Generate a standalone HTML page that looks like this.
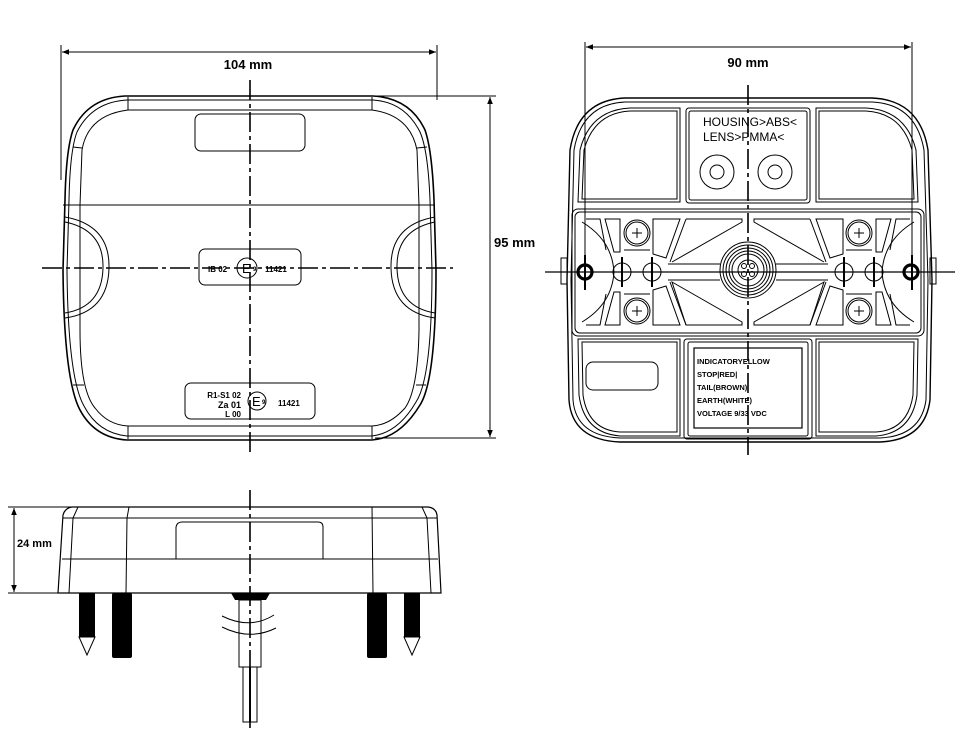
<!DOCTYPE html>
<html><head><style>
html,body{margin:0;padding:0;background:#fff;}
svg{display:block;}
text{font-family:"Liberation Sans",Arial,sans-serif;}
</style></head><body>
<svg width="960" height="737" viewBox="0 0 960 737" xmlns="http://www.w3.org/2000/svg">
<defs>
<marker id="ar" viewBox="0 0 10 10" refX="10" refY="5" markerWidth="9" markerHeight="7" orient="auto-start-reverse"><path d="M0,1 L10,5 L0,9 z" fill="#000"/></marker>
</defs>
<g fill="none" stroke="#000" stroke-width="1">
<!-- ===== FRONT VIEW ===== -->
<line x1="61" y1="45" x2="61" y2="180"/>
<line x1="437" y1="45" x2="437" y2="100"/>
<line x1="62" y1="52" x2="436" y2="52" marker-start="url(#ar)" marker-end="url(#ar)"/>
<line x1="375" y1="96" x2="496" y2="96"/>
<line x1="375" y1="438" x2="496" y2="438"/>
<line x1="490" y1="97" x2="490" y2="437" marker-start="url(#ar)" marker-end="url(#ar)"/>
<path d="M125,96 L373,96 Q410,98 425,130 Q432,150 434,200 L436,270 Q436,380 420,405 Q400,438 372,440 L127,440 Q95,438 80,410 Q64,380 63,270 L65,200 Q66,150 73,130 Q88,98 125,96 Z" stroke-width="1.6"/>
<path d="M127,100 L373,100 Q405,102 420,132 Q428,150 430,200 L432,270 Q432,378 416,402 Q398,433 372,436 L127,436 Q98,433 84,406 Q68,378 67,270 L69,200 Q70,150 77,132 Q92,102 127,100 Z"/>
<path d="M128,110 L372,110 Q410,115 417,150 L419,205 L419,330 Q418,390 405,408 Q390,425 372,426 L128,426 Q108,425 95,408 Q80,390 80,330 L80,205 L82,150 Q88,115 128,110 Z"/>
<line x1="128" y1="97" x2="128" y2="110"/><line x1="372" y1="97" x2="372" y2="110"/>
<line x1="128" y1="426" x2="128" y2="439"/><line x1="372" y1="426" x2="372" y2="439"/>
<line x1="73" y1="147" x2="82" y2="148"/><line x1="417" y1="148" x2="427" y2="147"/>
<line x1="73" y1="385" x2="84" y2="385"/><line x1="416" y1="385" x2="426" y2="385"/>
<line x1="63" y1="205" x2="435" y2="205"/>
<path d="M65,217 Q110,225 109,268 Q108,312 65,318"/>
<path d="M65,222 Q104,230 103,268 Q102,307 65,313"/>
<path d="M435,217 Q390,225 391,268 Q392,312 435,318"/>
<path d="M435,222 Q396,230 397,268 Q398,307 435,313"/>
<rect x="195" y="114" width="110" height="37" rx="6"/>
<rect x="199" y="249" width="102" height="36" rx="6"/>
<rect x="185" y="383" width="130" height="36" rx="6"/>
<circle cx="247" cy="268" r="10"/>
<circle cx="257" cy="401" r="9"/>
<line x1="250" y1="80" x2="250" y2="455" stroke-width="1.6" stroke-dasharray="20,4,4,4"/>
<line x1="42" y1="268" x2="453" y2="268" stroke-width="1.6" stroke-dasharray="20,4,4,4"/>
<!-- ===== REAR VIEW ===== -->
<line x1="585" y1="42" x2="585" y2="285"/>
<line x1="912" y1="42" x2="912" y2="285"/>
<line x1="586" y1="47" x2="911" y2="47" marker-start="url(#ar)" marker-end="url(#ar)"/>
<path d="M625,98 L872,98 Q920,100 928,150 L932,280 L930,400 Q925,440 880,442 L620,442 Q572,440 569,400 L567,280 L570,150 Q578,100 625,98 Z" stroke-width="1.4"/>
<path d="M625,102 L872,102 Q916,104 924,150 L928,280 L926,400 Q921,436 880,438 L620,438 Q576,436 573,400 L571,280 L574,150 Q582,104 625,102 Z"/>
<rect x="686" y="108" width="124" height="95" rx="3"/>
<rect x="689" y="111" width="118" height="89" rx="2"/>
<path d="M680,108 L630,108 Q590,110 580,150 L578,202 L680,202 Z"/>
<path d="M677,111 L630,111 Q594,113 584,150 L582,199 L677,199 Z"/>
<path d="M816,108 L866,108 Q906,110 916,150 L918,202 L816,202 Z"/>
<path d="M819,111 L866,111 Q902,113 912,150 L914,199 L819,199 Z"/>
<rect x="684" y="339" width="128" height="100" rx="3"/>
<rect x="688" y="342" width="120" height="94" rx="2"/>
<path d="M680,339 L578,339 L579,395 Q584,433 620,436 L680,436 Z"/>
<path d="M677,342 L582,342 L583,395 Q588,430 620,432 L677,432 Z"/>
<path d="M816,339 L918,339 L917,395 Q912,433 876,436 L816,436 Z"/>
<path d="M819,342 L914,342 L913,395 Q908,430 876,432 L819,432 Z"/>
<rect x="586" y="362" width="72" height="28" rx="7"/>
<rect x="694" y="348" width="108" height="80" stroke-width="1.2"/>
<rect x="572" y="209" width="352" height="127" rx="6"/>
<rect x="575" y="212" width="346" height="121" rx="5"/>
<g id="half">
<path d="M582,222 Q612,240 614,272 Q612,304 582,322"/>
<path d="M586,219 L600,219 L606,250 M586,325 L600,325 L606,294"/>
<path d="M605,219 L620,219 L620,252 L614,252 Z"/>
<path d="M605,325 L620,325 L620,292 L614,292 Z"/>
<circle cx="637" cy="233" r="13"/><circle cx="637" cy="233" r="11"/>
<circle cx="637" cy="311" r="13"/><circle cx="637" cy="311" r="11"/>
<path d="M637,228 v10 M632,233 h10"/>
<path d="M637,306 v10 M632,311 h10"/>
<path d="M624,250 L650,250 M624,294 L650,294"/>
<path d="M653,219 L680,219 L666,258 L653,254 Z"/>
<path d="M653,325 L680,325 L666,286 L653,290 Z"/>
<path d="M686,219 L742,219 L742,222 L672,262 M672,282 L742,322 L742,325 L686,325 Z"/>
<path d="M686,219 L670,262 M686,325 L670,282"/>
<path d="M668,264 L720,264 M668,280 L720,280"/>
<circle cx="622" cy="272" r="9"/><circle cx="652" cy="272" r="9"/>
<circle cx="585" cy="272" r="7" stroke-width="3.2"/>
</g>
<use href="#half" transform="translate(1496,0) scale(-1,1)"/>
<circle cx="748" cy="270" r="28"/><circle cx="748" cy="270" r="25"/><circle cx="748" cy="270" r="22"/><circle cx="748" cy="270" r="19"/><circle cx="748" cy="270" r="16"/><circle cx="748" cy="270" r="10"/>
<circle cx="744" cy="266" r="2.5"/><circle cx="752" cy="266" r="2.5"/><circle cx="744" cy="274" r="2.5"/><circle cx="752" cy="274" r="2.5"/>
<rect x="561" y="258" width="6" height="26"/><rect x="930" y="258" width="6" height="26"/>
<circle cx="717" cy="172" r="17"/><circle cx="717" cy="172" r="7"/>
<circle cx="775" cy="172" r="17"/><circle cx="775" cy="172" r="7"/>
<line x1="748" y1="85" x2="748" y2="455" stroke-width="1.6" stroke-dasharray="20,4,4,4"/>
<line x1="545" y1="272" x2="955" y2="272" stroke-width="1.2"/>
<line x1="585" y1="255" x2="585" y2="290" stroke-width="2"/><line x1="912" y1="255" x2="912" y2="290" stroke-width="2"/>
<line x1="622" y1="257" x2="622" y2="287" stroke-width="2"/><line x1="652" y1="257" x2="652" y2="287" stroke-width="2"/>
<line x1="844" y1="257" x2="844" y2="287" stroke-width="2"/><line x1="874" y1="257" x2="874" y2="287" stroke-width="2"/>
<!-- ===== SIDE VIEW ===== -->
<line x1="8" y1="507" x2="75" y2="507"/><line x1="8" y1="593" x2="60" y2="593"/>
<line x1="14" y1="508" x2="14" y2="592" marker-start="url(#ar)" marker-end="url(#ar)"/>
<path d="M58,593 L63,515 Q65,508 72,507 L428,507 Q436,508 437,515 L441,593 Z" stroke-width="1.2"/>
<line x1="63" y1="518" x2="437" y2="518"/>
<line x1="62" y1="559" x2="438" y2="559"/>
<path d="M78,507 L73,518 L69,593"/><path d="M422,507 L427,518 L431,593"/>
<path d="M129,507 L127,518 L126,593"/><line x1="372" y1="507" x2="373" y2="593"/>
<path d="M176,559 L176,527 Q177,522 182,522 L318,522 Q323,522 323,527 L323,559"/>
</g>
<g fill="#000">
<rect x="79" y="593" width="16" height="44"/><path d="M79,637 L95,637 L87,655 Z" fill="#fff" stroke="#000"/>
<rect x="112" y="593" width="20" height="65" rx="2"/>
<rect x="367" y="593" width="20" height="65" rx="2"/>
<rect x="404" y="593" width="16" height="44"/><path d="M404,637 L420,637 L412,655 Z" fill="#fff" stroke="#000"/>
<path d="M231,593 L270,593 L266,600 L235,600 Z"/>
</g>
<g fill="none" stroke="#000" stroke-width="1">
<rect x="239" y="600" width="22" height="67"/>
<rect x="243" y="667" width="14" height="55"/>
<path d="M222,616 Q250,630 274,615"/><path d="M222,627 Q250,641 276,628"/>
<line x1="250" y1="490" x2="250" y2="728" stroke-width="1.6" stroke-dasharray="20,4,4,4"/>
</g>
<line x1="250" y1="667" x2="250" y2="722" stroke="#000" stroke-width="2"/>
<g font-weight="bold" fill="#000">
<text x="248" y="69" font-size="13" text-anchor="middle">104 mm</text>
<text x="494" y="247" font-size="13">95 mm</text>
<text x="748" y="67" font-size="13" text-anchor="middle">90 mm</text>
<text x="17" y="547" font-size="11">24 mm</text>
<text x="208" y="272" font-size="8">IB 02</text><text x="242" y="273" font-size="13" font-weight="normal">E</text><text x="253" y="271" font-size="6">9</text><text x="265" y="272" font-size="8">11421</text>
<text x="241" y="398" font-size="8" text-anchor="end">R1-S1 02</text>
<text x="241" y="408" font-size="9" text-anchor="end">Za 01</text>
<text x="241" y="417" font-size="8" text-anchor="end">L 00</text>
<text x="252" y="406" font-size="13" font-weight="normal">E</text><text x="262" y="404" font-size="6">9</text>
<text x="278" y="406" font-size="8">11421</text>
<g font-size="7.5">
<text x="697" y="364">INDICATORYELLOW</text>
<text x="697" y="377">STOP|RED|</text>
<text x="697" y="390">TAIL(BROWN)</text>
<text x="697" y="403">EARTH(WHITE)</text>
<text x="697" y="416">VOLTAGE 9/33 VDC</text>
</g>
</g>
<g fill="#000" font-size="12">
<text x="703" y="126">HOUSING&gt;ABS&lt;</text>
<text x="703" y="141">LENS&gt;PMMA&lt;</text>
</g>
</svg>
</body></html>
